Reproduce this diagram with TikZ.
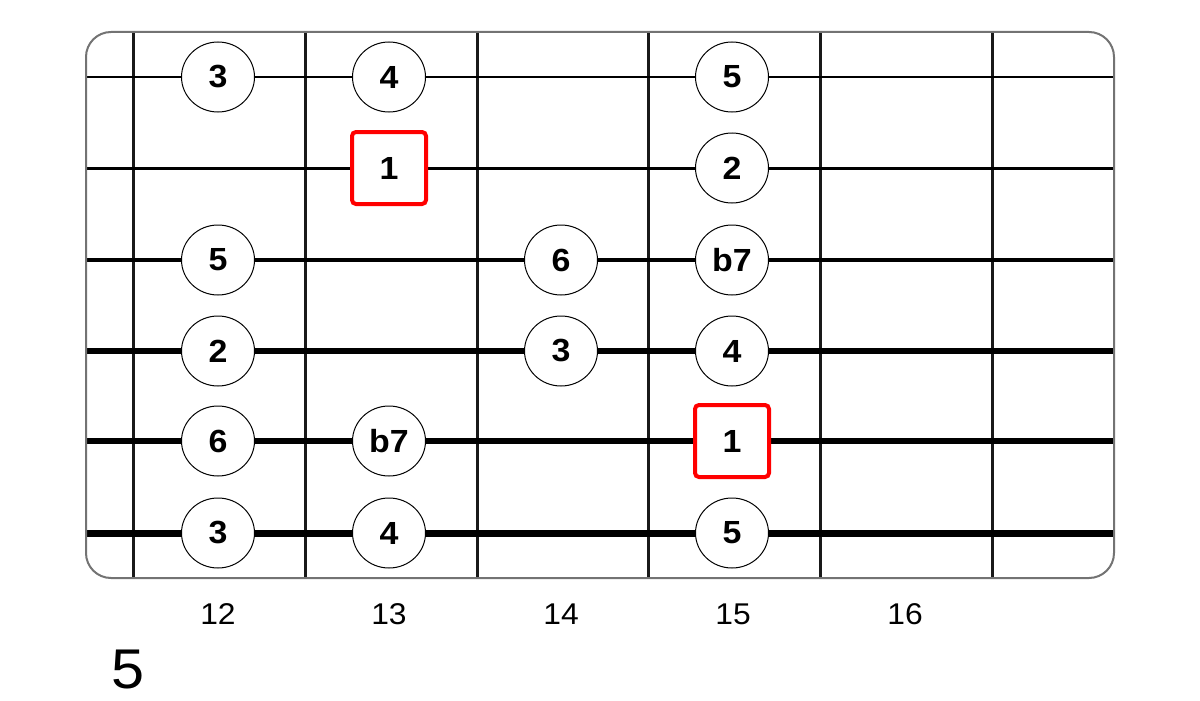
\documentclass[tikz,border=0pt]{standalone}
\usepackage{fontspec}
\setmainfont{Liberation Sans}[FakeStretch=1.06]
\usetikzlibrary{shapes.geometric}

\begin{document}
\begin{tikzpicture}
[
    x=1pt, y=-1pt,
    note/.style={ellipse, draw=black, line width=1pt, fill=white, minimum width=73pt, minimum height=70pt, inner sep=0pt, font=\bfseries\fontsize{32}{34}\selectfont},
    root/.style={rectangle, rounded corners=4pt, draw=red, line width=4pt, fill=white, minimum width=74pt, minimum height=72pt, inner sep=0pt, font=\bfseries\fontsize{32}{34}\selectfont},
    fret/.style={draw=black!90, line width=3pt},
    fretnum/.style={font=\fontsize{30}{32}\selectfont},
]
\useasboundingbox (0,0) rectangle (1200,701);
% frets
\draw [fret] (133.5,31) -- (133.5,579);
\draw [fret] (305,31) -- (305,579);
\draw [fret] (477,31) -- (477,579);
\draw [fret] (648.5,31) -- (648.5,579);
\draw [fret] (820,31) -- (820,579);
\draw [fret] (992,31) -- (992,579);
% strings
\draw [line width=2.2pt] (86,77) -- (1114,77);
\draw [line width=3pt] (86,168) -- (1114,168);
\draw [line width=4pt] (86,260) -- (1114,260);
\draw [line width=5.5pt] (86,351) -- (1114,351);
\draw [line width=6.5pt] (86,441) -- (1114,441);
\draw [line width=7pt] (86,533) -- (1114,533);
% board
\draw [black!55, line width=2pt, rounded corners=25pt] (86,32) rectangle (1114,578);
% notes
\node [note] (s1a) at (218,77) {3};
\node [note] (s1b) at (389,77) {4};
\node [note] (s1d) at (732,77) {5};
\node [root] (s2b) at (389,168) {1};
\node [note] (s2d) at (732,168) {2};
\node [note] (s3a) at (218,260) {5};
\node [note] (s3c) at (561,260) {6};
\node [note] (s3d) at (732,260) {b7};
\node [note] (s4a) at (218,351) {2};
\node [note] (s4c) at (561,351) {3};
\node [note] (s4d) at (732,351) {4};
\node [note] (s5a) at (218,441) {6};
\node [note] (s5b) at (389,441) {b7};
\node [root] (s5d) at (732,441) {1};
\node [note] (s6a) at (218,533) {3};
\node [note] (s6b) at (389,533) {4};
\node [note] (s6d) at (732,533) {5};
% fret numbers
\node [fretnum] (n12) at (218,614) {12};
\node [fretnum] (n13) at (389,614) {13};
\node [fretnum] (n14) at (561,614) {14};
\node [fretnum] (n15) at (733,614) {15};
\node [fretnum] (n16) at (905,614) {16};
\node [font=\fontsize{56}{58}\selectfont] (pos) at (128,670) {5};
\end{tikzpicture}
\end{document}
